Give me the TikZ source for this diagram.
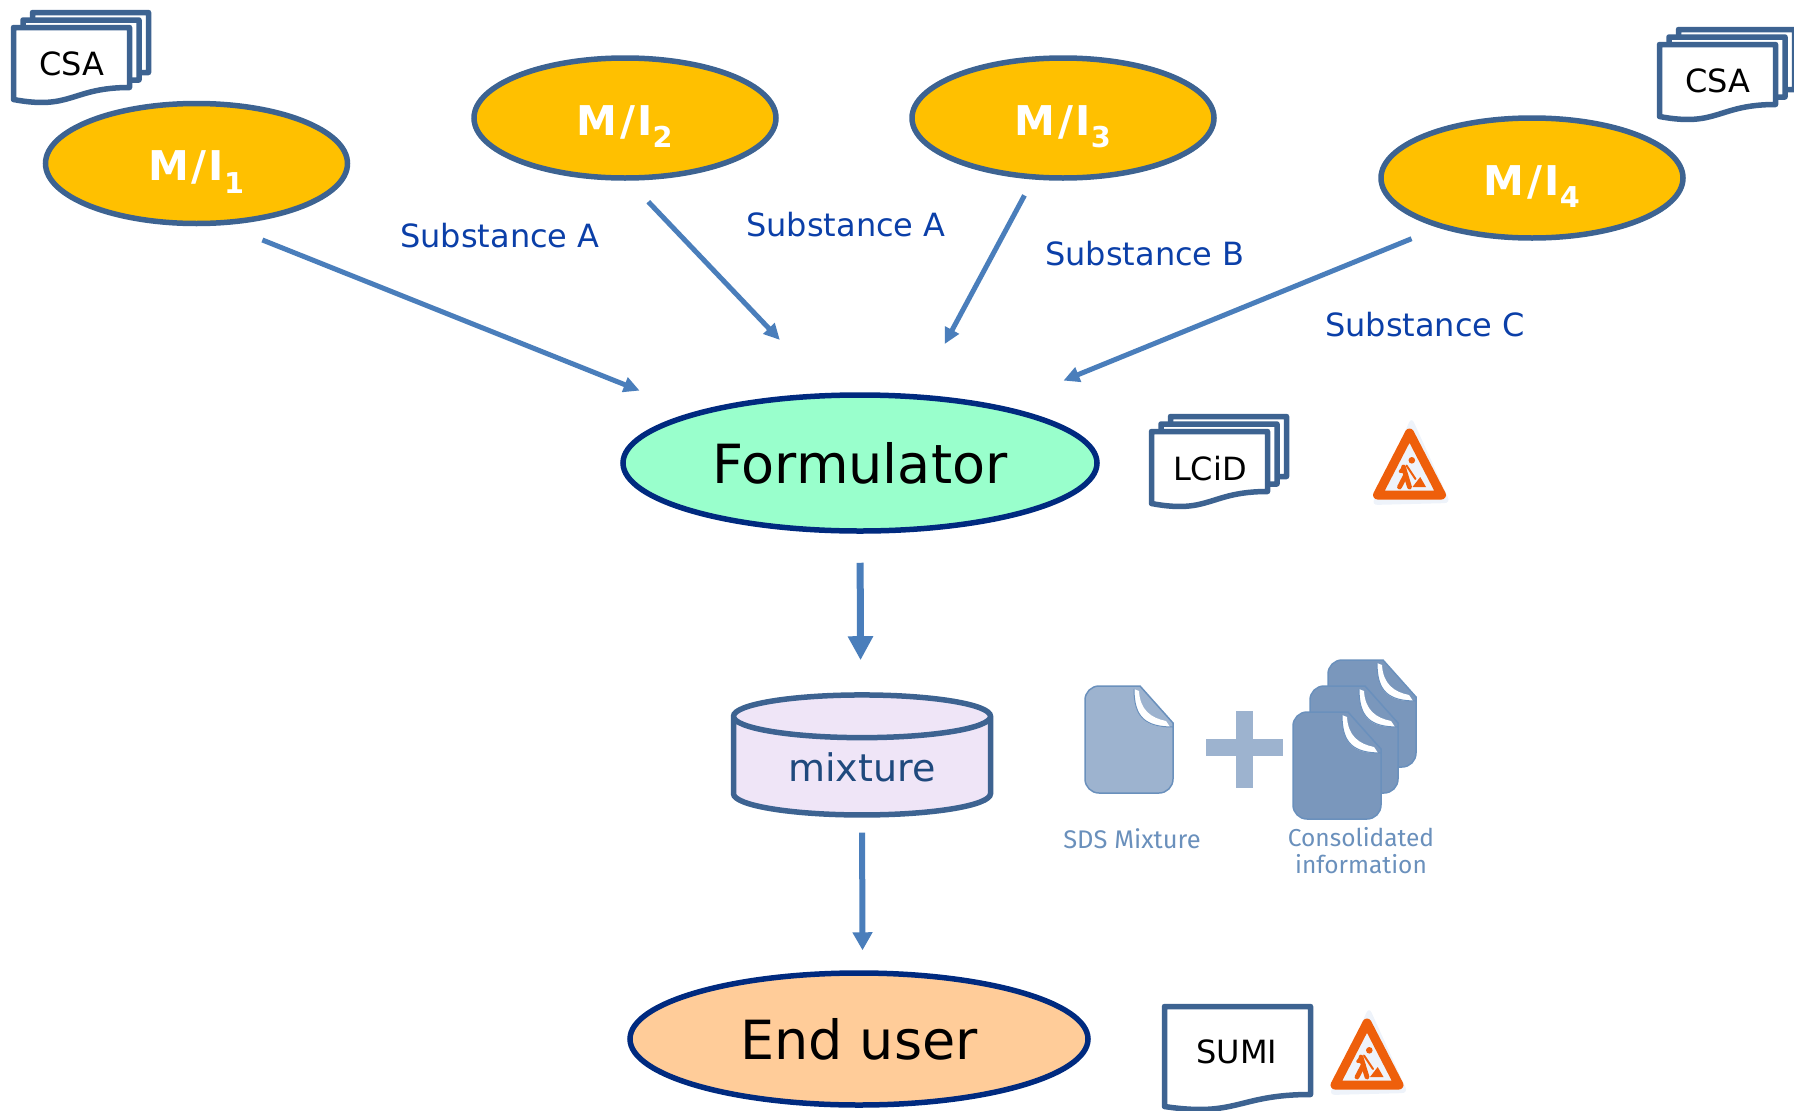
\documentclass[tikz,border=0pt]{standalone}
\usepackage{fontspec}
\setmainfont{DejaVu Sans}
\newfontfamily\sdsfont{Fira Sans}
\usepackage{xcolor}
\usetikzlibrary{shapes.geometric, arrows.meta, positioning}

\definecolor{edgeblue}{HTML}{3D6391}
\definecolor{navyline}{HTML}{002A7F}
\definecolor{arrowblue}{HTML}{4A7EBB}
\definecolor{labelblue}{HTML}{0B3FA8}
\definecolor{signorange}{HTML}{EE5F0B}
\definecolor{signpale}{HTML}{EEF3FA}
\definecolor{filelight}{HTML}{9DB3CF}
\definecolor{filedark}{HTML}{7A97BC}
\definecolor{fileedge}{HTML}{6A90BC}

% one sheet with a wavy lower edge
\newcommand{\docpage}[4]{
    \draw[line width=5.5pt, draw=edgeblue, fill=white, line join=round]
        (#1,#2) -- (#1+#3,#2) -- (#1+#3,#2+#4)
        .. controls (#1+0.5*#3,#2+#4) and (#1+0.5*#3,#2+#4+23) .. (#1,#2+#4+12) -- cycle;
}
\newcommand{\docstack}[2]{
    \docpage{#1+32.5}{#2+12.5}{116}{60}
    \docpage{#1+23}{#2+20}{116}{60}
    \docpage{#1+13.5}{#2+27.5}{116}{60}
}
\newcommand{\worksign}[2]{
    \begin{scope}[shift={(#1,#2)}]
        \fill[signpale, rounded corners=6pt] (2,-10) -- (41,76) -- (-38,78) -- cycle;
        \draw[signorange, line width=9pt, line join=round, fill=signpale] (0,6) -- (32,68) -- (-32,68) -- cycle;
        \fill[signorange] (2.3,33.3) circle (3.3);
        \draw[signorange, line width=4.8pt, line cap=round, line join=round] (-6,40) -- (-3.7,48) -- (-10,60);
        \draw[signorange, line width=4.8pt, line cap=round, line join=round] (-3.7,48) -- (0,60);
        \draw[signorange, line width=2.6pt, line cap=round, line join=round] (-6,40) -- (-9.5,44.5) -- (-5,45);
        \draw[signorange, line width=2pt, line cap=round] (-3,38.5) -- (6,52);
        \fill[signorange] (3,60) -- (10.7,50) -- (16.5,60) -- cycle;
    \end{scope}
}
\newcommand{\sdsfile}[3]{
    \begin{scope}[shift={(#1,#2)}]
        \draw[fill=#3, draw=fileedge, line width=1.5pt]
            (0,50) [rounded corners=14pt] -- (0,0) [sharp corners] -- (55,0) -- (88,37)
            [rounded corners=14pt] -- (88,107) -- (0,107) [sharp corners] -- cycle;
        \fill[white] (49,3) .. controls (49,31) and (60,41) .. (85,41) -- (81,35)
            .. controls (66,32) and (55,24) .. (54,5) -- cycle;
        \draw[fileedge, line width=1pt] (49,3) .. controls (49,31) and (60,41) .. (88,41);
    \end{scope}
}

\begin{document}
\begin{tikzpicture}[
        x=1pt, y=-1pt,
        mi/.style={ellipse, draw=edgeblue, fill={rgb,255:red,255;green,192;blue,0}, line width=5.5pt,
            minimum width=302pt, minimum height=120pt, inner sep=0pt, text=white, text height=34.5pt, text depth=0pt,
            font=\fontsize{41}{44}\selectfont\bfseries\addfontfeature{LetterSpace=6}},
        actor/.style={ellipse, draw=navyline, line width=5.5pt, inner sep=0pt,
            font=\fontsize{54}{60}\selectfont},
        subst/.style={text=labelblue, inner sep=0pt, font=\fontsize{32}{38}\selectfont},
        doclabel/.style={inner sep=0pt, font=\fontsize{32}{38}\selectfont},
        sdslabel/.style={text=fileedge, inner sep=0pt, align=center, font=\fontsize{24.5}{27}\selectfont\sdsfont},
        arrow/.style={-{Stealth[inset=0pt, length=16pt, width=15pt]}, arrowblue, line width=5pt},
        bigarrow/.style={-{Stealth[inset=0pt, length=24pt, width=24pt]}, arrowblue, line width=7pt}
    ]
    \useasboundingbox (0,0) rectangle (1794,1111);

    \node[mi] (MI1) at (196.5,163.5) {M/I\textsubscript{1}};
    \node[mi] (MI2) at (625,118) {M/I\textsubscript{2}};
    \node[mi] (MI3) at (1063,118) {M/I\textsubscript{3}};
    \node[mi] (MI4) at (1532,178) {M/I\textsubscript{4}};

    \node[actor, fill={rgb,255:red,153;green,255;blue,204}, minimum width=474pt, minimum height=136pt] (FORM) at (860,463) {Formulator};
    \node[actor, fill={rgb,255:red,255;green,204;blue,153}, minimum width=458pt, minimum height=132pt] (USER) at (859,1039) {End user};

    \node[cylinder, shape border rotate=90, shape aspect=.29, draw=edgeblue, line width=5.5pt, fill={rgb,255:red,239;green,229;blue,247},
        minimum width=257pt, minimum height=120pt, inner sep=0pt, text={rgb,255:red,31;green,73;blue,125},
        font=\fontsize{38}{42}\selectfont] (MIX) at (862,767) {mixture};

    \draw[arrow, shorten <=40pt, shorten >=58pt] (MI1.-65) -- (FORM.163);
    \draw[arrow, shorten <=29pt, shorten >=73pt] (MI2.-87) -- (FORM.113);
    \draw[arrow, shorten <=18pt, shorten >=57pt] (MI3.-116) -- (FORM.50);
    \draw[arrow, shorten <=29pt, shorten >=67pt] (MI4.208) -- (FORM.22);
    \draw[bigarrow, shorten <=29pt, shorten >=32pt] (FORM.south) -- (MIX.91);
    \draw[arrow, {-Stealth[inset=0pt, length=18pt, width=19pt]}, line width=6pt, shorten <=15pt, shorten >=20pt] (MIX.270) -- (USER.87);

    \node[subst] (SA1) at (500,236) {Substance A};
    \node[subst] (SA2) at (846,225) {Substance A};
    \node[subst] (SB) at (1145,254) {Substance B};
    \node[subst] (SC) at (1425,325) {Substance C};

    \docstack{0}{0}
    \node[doclabel] (CSA1) at (72,64) {CSA};
    \docstack{1646}{17}
    \node[doclabel] (CSA2) at (1718,81) {CSA};
    \docstack{1138}{404}
    \node[doclabel] (LCID) at (1210,469) {LCiD};
    \docpage{1164.5}{1006.5}{146}{88}
    \node[doclabel] (SUMI) at (1237,1052) {SUMI};

    \worksign{1409.5}{427}
    \worksign{1367}{1017}

    \sdsfile{1085}{686}{filelight}
    \fill[filelight] (1206,739) rectangle (1283,756);
    \fill[filelight] (1236,711) rectangle (1253,788);
    \sdsfile{1328}{660}{filedark}
    \sdsfile{1310}{686}{filedark}
    \sdsfile{1293}{712}{filedark}

    \node[sdslabel, font=\fontsize{25.5}{27}\selectfont\sdsfont] (SDS) at (1132,839) {SDS Mixture};
    \node[sdslabel] (CONS) at (1361,851) {Consolidated\\information};
\end{tikzpicture}
\end{document}
